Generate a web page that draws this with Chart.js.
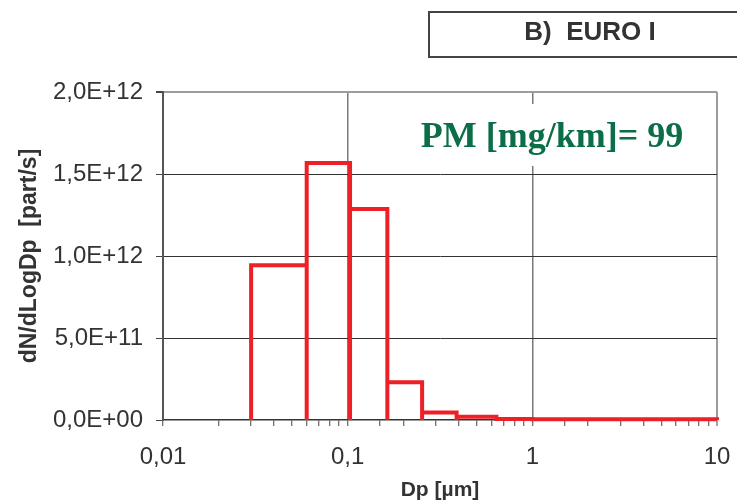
<!DOCTYPE html>
<html>
<head>
<meta charset="utf-8">
<script src="https://cdn.jsdelivr.net/npm/chart.js@4"></script>
<style>
  html, body { margin: 0; padding: 0; background: #fff; }
  #wrap { width: 737px; height: 504px; }
</style>
</head>
<body>
<div id="wrap"><canvas id="chart" width="737" height="504"></canvas></div>
<script>
// --- Data ---
const binLow  = [0.03, 0.06, 0.103, 0.164, 0.253, 0.389, 0.639, 1.0, 1.6, 2.5, 4.0, 6.5];
const binHigh = [0.06, 0.103, 0.164, 0.253, 0.389, 0.639, 1.0, 1.6, 2.5, 4.0, 6.5, 10];
const dNdLogDp = [0.944e12, 1.567e12, 1.286e12, 0.230e12, 0.045e12, 0.020e12,
                  0.006e12, 0.005e12, 0.005e12, 0.004e12, 0.004e12, 0.004e12];

const xTickValues = [0.01, 0.1, 1, 10];
const xTickLabels = ['0,01', '0,1', '1', '10'];
const yTickLabels = ['0,0E+00', '5,0E+11', '1,0E+12', '1,5E+12', '2,0E+12'];

const titleText = 'B)  EURO I';
const pmText = 'PM [mg/km]= 99';

// build histogram outline from the bins
const outline = [];
binLow.forEach((lo, i) => {
    const hi = binHigh[i];
    const h = dNdLogDp[i];
    outline.push({ x: lo, y: 0 }, { x: lo, y: h }, { x: hi, y: h }, { x: hi, y: 0 });
});

const isDecade = v => Math.abs(Math.log10(v) - Math.round(Math.log10(v))) < 1e-6;

// title box + PM annotation
const extras = {
    id: 'extras',
    afterDraw(chart) {
        const ctx = chart.ctx;
        ctx.save();
        // PM label with white background
        ctx.font = 'bold 36px "Liberation Serif", "Times New Roman", serif';
        ctx.textAlign = 'center';
        ctx.textBaseline = 'alphabetic';
        ctx.fillStyle = '#fff';
        ctx.fillRect(410, 104, 285, 62);
        ctx.fillStyle = '#0b6e47';
        ctx.fillText(pmText, 552, 147);
        // title box
        ctx.strokeStyle = '#444';
        ctx.lineWidth = 2;
        ctx.strokeRect(429, 12, 330, 45);
        ctx.font = 'bold 26px "Liberation Sans", Arial, sans-serif';
        ctx.fillStyle = '#333';
        ctx.fillText(titleText, 590, 40);
        ctx.restore();
    }
};

new Chart(document.getElementById('chart').getContext('2d'), {
    type: 'scatter',
    data: {
        datasets: [{
            data: outline,
            showLine: true,
            borderColor: '#ee1f26',
            borderWidth: 4,
            borderJoinStyle: 'miter',
            pointRadius: 0,
            tension: 0,
            clip: 6
        }]
    },
    options: {
        responsive: false,
        animation: false,
        layout: { padding: { left: 0, right: 20, top: 92, bottom: 0 } },
        plugins: {
            legend: { display: false },
            tooltip: { enabled: false }
        },
        scales: {
            x: {
                type: 'logarithmic',
                min: 0.01,
                max: 10,
                afterFit: s => { s.height = 84; s.paddingLeft = 0; s.paddingRight = 0; },
                border: { color: '#333', width: 1.5 },
                grid: {
                    color: c => {
                        const v = c.tick && c.tick.value;
                        if (!v || !isDecade(v)) return 'rgba(0,0,0,0)';
                        if (Math.abs(v - 0.01) < 1e-9) return 'rgba(0,0,0,0)';
                        if (Math.abs(v - 10) < 1e-9) return '#a09a98';
                        return '#7a7a7a';
                    },
                    lineWidth: c => (c.tick && Math.abs(c.tick.value - 10) < 1e-9) ? 2 : 1.5,
                    tickColor: '#444',
                    tickLength: 6,
                    tickWidth: 1
                },
                ticks: {
                    autoSkip: false,
                    maxRotation: 0,
                    padding: 17,
                    color: '#333',
                    font: { family: '"Liberation Sans", Arial, sans-serif', size: 24 },
                    callback: v => {
                        const i = xTickValues.findIndex(t => Math.abs(t - v) < t * 1e-6);
                        return i >= 0 ? xTickLabels[i] : '';
                    }
                },
                title: {
                    display: true,
                    text: 'Dp [µm]',
                    color: '#333',
                    padding: { top: 0, bottom: 1 },
                    font: { family: '"Liberation Sans", Arial, sans-serif', size: 21, weight: 'bold' }
                }
            },
            y: {
                min: 0,
                max: 2e12,
                afterFit: s => { s.width = 163; },
                border: { color: '#555', width: 2 },
                grid: {
                    color: c => {
                        const v = c.tick && c.tick.value;
                        if (v === 0) return 'rgba(0,0,0,0)';
                        if (v === 2e12) return '#a09a98';
                        return '#333';
                    },
                    lineWidth: c => (c.tick && c.tick.value === 2e12) ? 2 : 1,
                    tickColor: '#444',
                    tickLength: 7
                },
                ticks: {
                    stepSize: 5e11,
                    padding: 13,
                    color: '#333',
                    font: { family: '"Liberation Sans", Arial, sans-serif', size: 24 },
                    callback: (v, i) => yTickLabels[i]
                },
                title: {
                    display: true,
                    text: 'dN/dLogDp  [part/s]',
                    color: '#333',
                    padding: { top: 16, bottom: 0 },
                    font: { family: '"Liberation Sans", Arial, sans-serif', size: 23, weight: 'bold' }
                }
            }
        }
    },
    plugins: [extras]
});
</script>
</body>
</html>
